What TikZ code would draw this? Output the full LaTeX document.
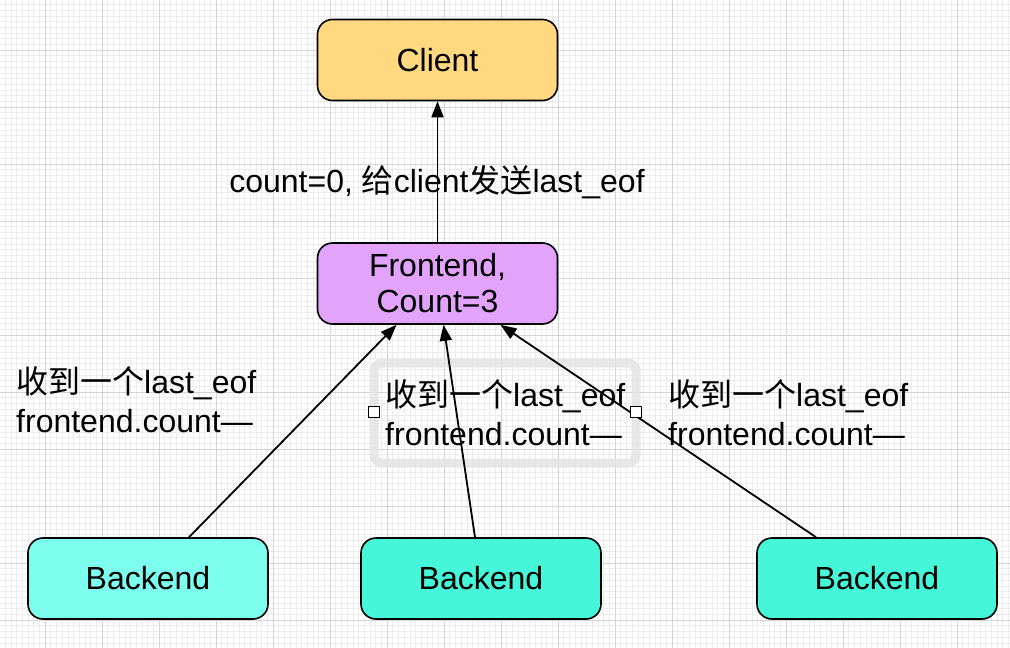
\documentclass[tikz,border=0pt]{standalone}
\usepackage{fontspec}
\setmainfont{Liberation Sans}
\newfontfamily\cjk{Noto Sans CJK SC}
\usetikzlibrary{arrows.meta}
\definecolor{clientfill}{RGB}{255,216,128}
\definecolor{frontfill}{RGB}{226,163,250}
\definecolor{backfillA}{RGB}{125,253,238}
\definecolor{backfillB}{RGB}{69,246,217}
\definecolor{minorgrid}{RGB}{236,236,236}
\definecolor{majorgrid}{RGB}{212,212,212}
\definecolor{selgray}{RGB}{228,228,228}
\tikzset{
  box/.style={draw=black, line width=1.6pt, rounded corners=15pt, minimum width=240pt, minimum height=81pt, inner sep=0pt, align=center, font=\fontsize{32}{36}\selectfont},
  lbl/.style={inner sep=0pt, align=left, anchor=north west, font=\fontsize{32}{39}\selectfont},
  conn/.style={line width=1.8pt, -{Triangle[length=16pt,width=12pt]}},
  handle/.style={draw=black, line width=1pt, fill=white, minimum size=11pt, inner sep=0pt},
}
\begin{document}
\begin{tikzpicture}[x=1pt,y=-1pt]
\useasboundingbox (0,0) rectangle (1010,648);
\fill[white] (0,0) rectangle (1010,648);
% grid
\begin{scope}
\clip (0,0) rectangle (1010,648);
\foreach \k in {-8,...,170} \draw[minorgrid, line width=0.6pt] ({45+5.7*\k},0) -- ({45+5.7*\k},648);
\foreach \k in {-9,...,106} \draw[minorgrid, line width=0.6pt] (0,{50+5.7*\k}) -- (1010,{50+5.7*\k});
\foreach \k in {-1,...,17} \draw[majorgrid, line width=0.8pt] ({45+57*\k},0) -- ({45+57*\k},648);
\foreach \k in {-1,...,11} \draw[majorgrid, line width=0.8pt] (0,{50+57*\k}) -- (1010,{50+57*\k});
\end{scope}

% selection frame
\draw[selgray, line width=9pt, rounded corners=8pt, opacity=0.85] (374,363) rectangle (636,463);

% nodes
\node[box, fill=clientfill] (client) at (437.5,60) {Client};
\node[box, fill=frontfill] (fe) at (437.5,283.5) {Frontend,\\Count=3};
\node[box, fill=backfillA] (b1) at (148,578.5) {Backend};
\node[box, fill=backfillB] (b2) at (481,578.5) {Backend};
\node[box, fill=backfillB] (b3) at (877,578.5) {Backend};

% connectors
\draw[conn] (fe.north) -- (client.south);
\draw[conn] ([xshift=41pt]b1.north) -- ([xshift=-41pt]fe.south);
\draw[conn] ([xshift=-6pt]b2.north) -- ([xshift=6pt]fe.south);
\draw[conn] ([xshift=-61pt]b3.north) -- ([xshift=63pt]fe.south);

% labels
\node[inner sep=0pt, font=\fontsize{32}{36}\selectfont] (l0) at (437,182) {count=0, {\cjk 给}client{\cjk 发送}last\_eof};
\node[lbl] (l1) at (16,366) {{\cjk 收到一个}last\_eof\\frontend.count—};
\node[lbl] (l2) at (385,379) {{\cjk 收到一个}last\_eof\\frontend.count—};
\node[lbl] (l3) at (668,379) {{\cjk 收到一个}last\_eof\\frontend.count—};

% selection handles
\node[handle] (h1) at (374,412) {};
\node[handle] (h2) at (636,412) {};
\end{tikzpicture}
\end{document}
